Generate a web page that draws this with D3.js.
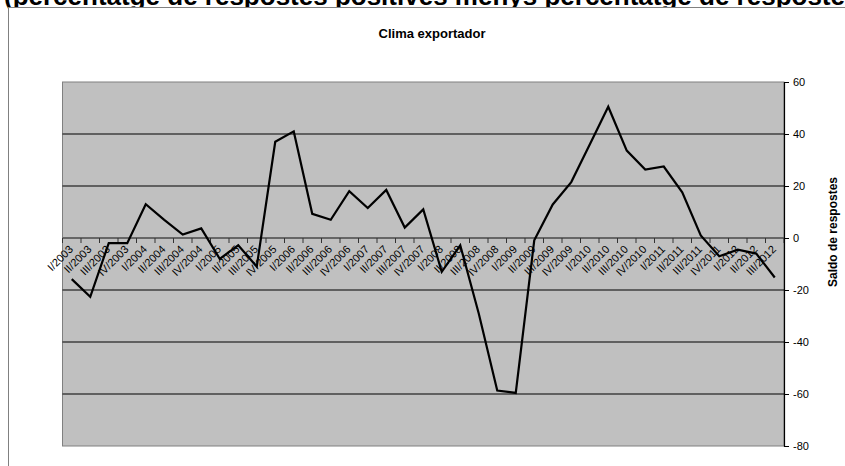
<!DOCTYPE html>
<html>
<head>
<meta charset="utf-8">
<script src="https://cdn.jsdelivr.net/npm/d3@7"></script>
<style>
body { margin: 0; background: #fff; }
svg { display: block; font-family: "Liberation Sans", Arial, sans-serif; }
</style>
</head>
<body>
<svg id="chart" width="845" height="466"></svg>
<script>
// trimestres I/2003 .. III/2012
var quarters = ["I","II","III","IV"];
var years = [2003,2004,2005,2006,2007,2008,2009,2010,2011,2012];
var categories = [];
years.forEach(function(y){
	quarters.forEach(function(q){ categories.push(q+"/"+y); });
});
categories = categories.slice(0, 39);

// saldo de respostes (clima exportador)
var saldo = [-15.8, -22.6, -2, -2, 13, 7, 1.3, 3.7,
	-8, -2.8, -11, 37, 41, 9.3, 7, 18,
	11.5, 18.5, 4, 11, -13, -2.8, -29, -58.7,
	-59.6, -0.9, 12.9, 21.5, 36, 50.5, 33.6, 26.3,
	27.5, 17.6, 1, -7, -4.5, -6, -15.2];

var yTicks = [60, 40, 20, 0, -20, -40, -60, -80];

var svg = d3.select("#chart");

// capçalera tallada
svg.append("text")
	.attr("x", 4)
	.attr("y", 5)
	.style("font-weight", "bold")
	.style("font-size", "26px")
	.text("(percentatge de respostes positives menys percentatge de respostes negatives)");

// marc del gràfic
svg.append("rect")
	.attr("x", 8.5)
	.attr("y", 7.5)
	.attr("width", 900)
	.attr("height", 500)
	.style("fill", "#fff")
	.style("stroke", "#808080");

svg.append("text")
	.attr("x", 432)
	.attr("y", 38)
	.attr("text-anchor", "middle")
	.style("font-weight", "bold")
	.style("font-size", "13px")
	.text("Clima exportador");

var x = d3.scaleBand()
	.domain(categories)
	.range([62.5, 784])
	.padding(0);

var y = d3.scaleLinear()
	.domain([-80, 60])
	.range([446, 82]);

var g = svg.append("g");

// àrea
g.append("rect")
	.attr("x", x.range()[0])
	.attr("y", y(60))
	.attr("width", x.range()[1] - x.range()[0])
	.attr("height", y(-80) - y(60))
	.style("fill", "#c0c0c0")
	.style("stroke", "#808080");

// línies de la graella
g.selectAll(".grid")
	.data(yTicks.filter(function(d){ return d != 0 && d != 60 && d != -80; }))
.enter().append("line")
	.attr("class", "grid")
	.attr("x1", x.range()[0])
	.attr("x2", x.range()[1])
	.attr("y1", function(d){ return y(d); })
	.attr("y2", function(d){ return y(d); })
	.style("stroke", "#000")
	.style("stroke-width", 1);

// eix de categories (a zero)
g.append("line")
	.attr("x1", x.range()[0])
	.attr("x2", x.range()[1])
	.attr("y1", y(0))
	.attr("y2", y(0))
	.style("stroke", "#666")
	.style("stroke-width", 2);

g.selectAll(".ctick")
	.data(categories.concat([null]))
.enter().append("line")
	.attr("class", "ctick")
	.attr("x1", function(d){ return d === null ? x.range()[1] : x(d); })
	.attr("x2", function(d){ return d === null ? x.range()[1] : x(d); })
	.attr("y1", y(0))
	.attr("y2", y(0) + 5)
	.style("stroke", "#333")
	.style("stroke-width", 1);

g.selectAll(".clabel")
	.data(categories)
.enter().append("text")
	.attr("class", "clabel")
	.attr("text-anchor", "end")
	.attr("transform", function(d){
		return "translate(" + (x(d) + x.bandwidth()/2 + 2) + "," + (y(0) + 12) + ") rotate(-45)";
	})
	.style("font-size", "11px")
	.style("fill", "#000")
	.text(function(d){ return d; });

// eix de valors a la dreta
var yAxis = d3.axisRight(y)
	.tickValues(yTicks)
	.tickSize(5)
	.tickPadding(4)
	.tickFormat(function(d){ return String(d); });

var ya = g.append("g")
	.attr("transform", "translate(" + x.range()[1] + ",0)")
	.call(yAxis);
ya.select(".domain").attr("stroke", "#000").attr("stroke-width", 1.2);
ya.selectAll(".tick line").attr("stroke", "#000");
ya.selectAll(".tick text")
	.style("font-family", "'Liberation Sans', Arial, sans-serif")
	.style("font-size", "11px")
	.attr("fill", "#000");

svg.append("text")
	.attr("transform", "translate(837,232) rotate(-90)")
	.attr("text-anchor", "middle")
	.style("font-weight", "bold")
	.style("font-size", "12px")
	.text("Saldo de respostes");

// línia de la sèrie
var line = d3.line()
	.x(function(d, i){ return x(categories[i]) + x.bandwidth()/2; })
	.y(function(d){ return y(d); });

g.append("path")
	.datum(saldo)
	.attr("d", line)
	.style("fill", "none")
	.style("stroke", "#000")
	.style("stroke-width", 2.2)
	.style("stroke-linejoin", "miter");
</script>
</body>
</html>
